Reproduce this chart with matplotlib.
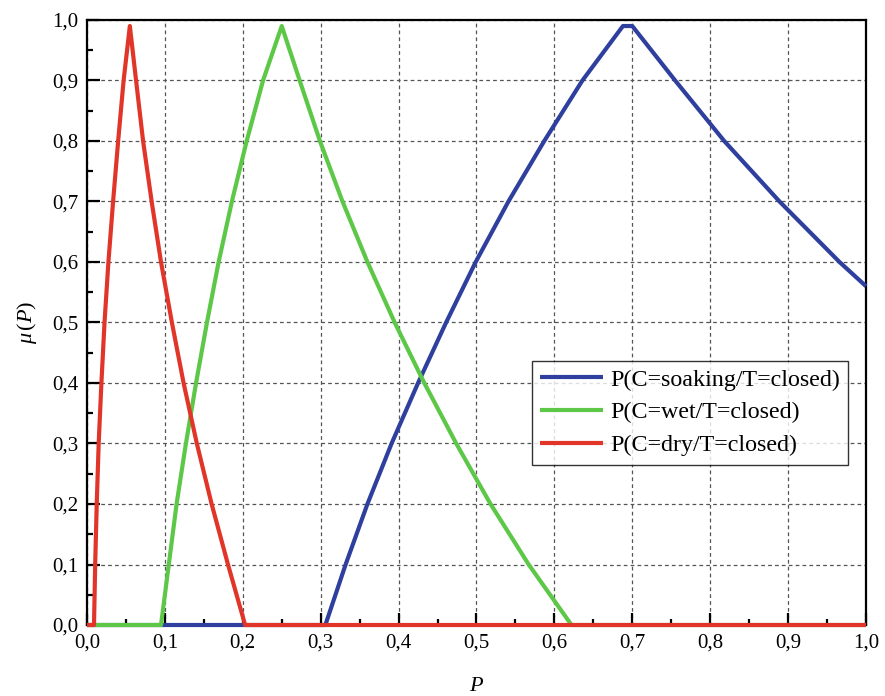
import matplotlib
matplotlib.use("Agg")
import matplotlib.pyplot as plt
from matplotlib.ticker import MultipleLocator, FuncFormatter

# Membership functions of P for each soil condition, given T=closed
soaking_p = [0.0, 0.306, 0.332, 0.360, 0.391, 0.425, 0.461, 0.499, 0.541, 0.587, 0.636, 0.688,
             0.700, 0.755, 0.818, 0.889, 0.966, 1.0]
soaking_mu = [0.0, 0.0, 0.1, 0.2, 0.3, 0.4, 0.5, 0.6, 0.7, 0.8, 0.9, 0.99,
              0.99, 0.9, 0.8, 0.7, 0.6, 0.56]

wet_p = [0.0, 0.095, 0.105, 0.115, 0.127, 0.140, 0.154, 0.169, 0.186, 0.205, 0.226, 0.250,
         0.273, 0.299, 0.328, 0.360, 0.395, 0.433, 0.474, 0.518, 0.567, 0.622, 1.0]
wet_mu = [0.0, 0.0, 0.1, 0.2, 0.3, 0.4, 0.5, 0.6, 0.7, 0.8, 0.9, 0.99,
          0.9, 0.8, 0.7, 0.6, 0.5, 0.4, 0.3, 0.2, 0.1, 0.0, 0.0]

dry_p = [0.0, 0.009, 0.0105, 0.0125, 0.015, 0.0185, 0.0225, 0.0275, 0.0335, 0.040, 0.047, 0.055,
         0.063, 0.072, 0.083, 0.095, 0.109, 0.124, 0.141, 0.160, 0.181, 0.203, 1.0]
dry_mu = [0.0, 0.0, 0.1, 0.2, 0.3, 0.4, 0.5, 0.6, 0.7, 0.8, 0.9, 0.99,
          0.9, 0.8, 0.7, 0.6, 0.5, 0.4, 0.3, 0.2, 0.1, 0.0, 0.0]

labels = ["P(C=soaking/T=closed)", "P(C=wet/T=closed)", "P(C=dry/T=closed)"]
colors = ["#2E3F9E", "#5DC847", "#E2352A"]

plt.rcParams["font.family"] = ["Liberation Serif", "DejaVu Serif"]
plt.rcParams["mathtext.fontset"] = "custom"
plt.rcParams["mathtext.rm"] = "Liberation Serif"
plt.rcParams["mathtext.it"] = "Liberation Serif:italic"

fig = plt.figure(figsize=(8.85, 6.96), dpi=100)
ax = fig.add_axes([0.0983, 0.102, 0.8802, 0.8693])

lw = 3.0
for xs, ys, c, lab in zip([soaking_p, wet_p, dry_p], [soaking_mu, wet_mu, dry_mu], colors, labels):
    ax.plot(xs, ys, color=c, lw=lw, label=lab, solid_joinstyle="round", solid_capstyle="butt",
            clip_on=False, zorder=3)

ax.set_xlim(0, 1)
ax.set_ylim(0, 1)
ax.xaxis.set_major_locator(MultipleLocator(0.1))
ax.xaxis.set_minor_locator(MultipleLocator(0.05))
ax.yaxis.set_major_locator(MultipleLocator(0.1))
ax.yaxis.set_minor_locator(MultipleLocator(0.05))
fmt = FuncFormatter(lambda v, pos: f"{v:.1f}".replace(".", ","))
ax.xaxis.set_major_formatter(fmt)
ax.yaxis.set_major_formatter(fmt)

ax.tick_params(which="major", direction="in", length=9, width=1.6, labelsize=15, pad=6)
ax.tick_params(which="minor", direction="in", length=4.5, width=1.6)
ax.tick_params(top=False, right=False, which="both")

for s in ax.spines.values():
    s.set_linewidth(1.6)

ax.grid(True, which="major", color="#555555", linestyle=(0, (3, 2.5)), linewidth=0.9)
ax.set_axisbelow(True)

ax.set_xlabel("$P$", fontsize=16, labelpad=18)
ax.set_ylabel(r"$\mu\,(P)$", fontsize=16, labelpad=10)

leg = ax.legend(loc="upper left", bbox_to_anchor=(0.571, 0.437), borderaxespad=0,
                fontsize=17.3, frameon=True, fancybox=False, edgecolor="black",
                handlelength=2.6, handletextpad=0.3, labelspacing=0.45,
                borderpad=0.35, handleheight=0.7)
leg.get_frame().set_linewidth(1.0)
for line in leg.get_lines():
    line.set_linewidth(3.0)

fig.savefig("out.png", dpi=100)
